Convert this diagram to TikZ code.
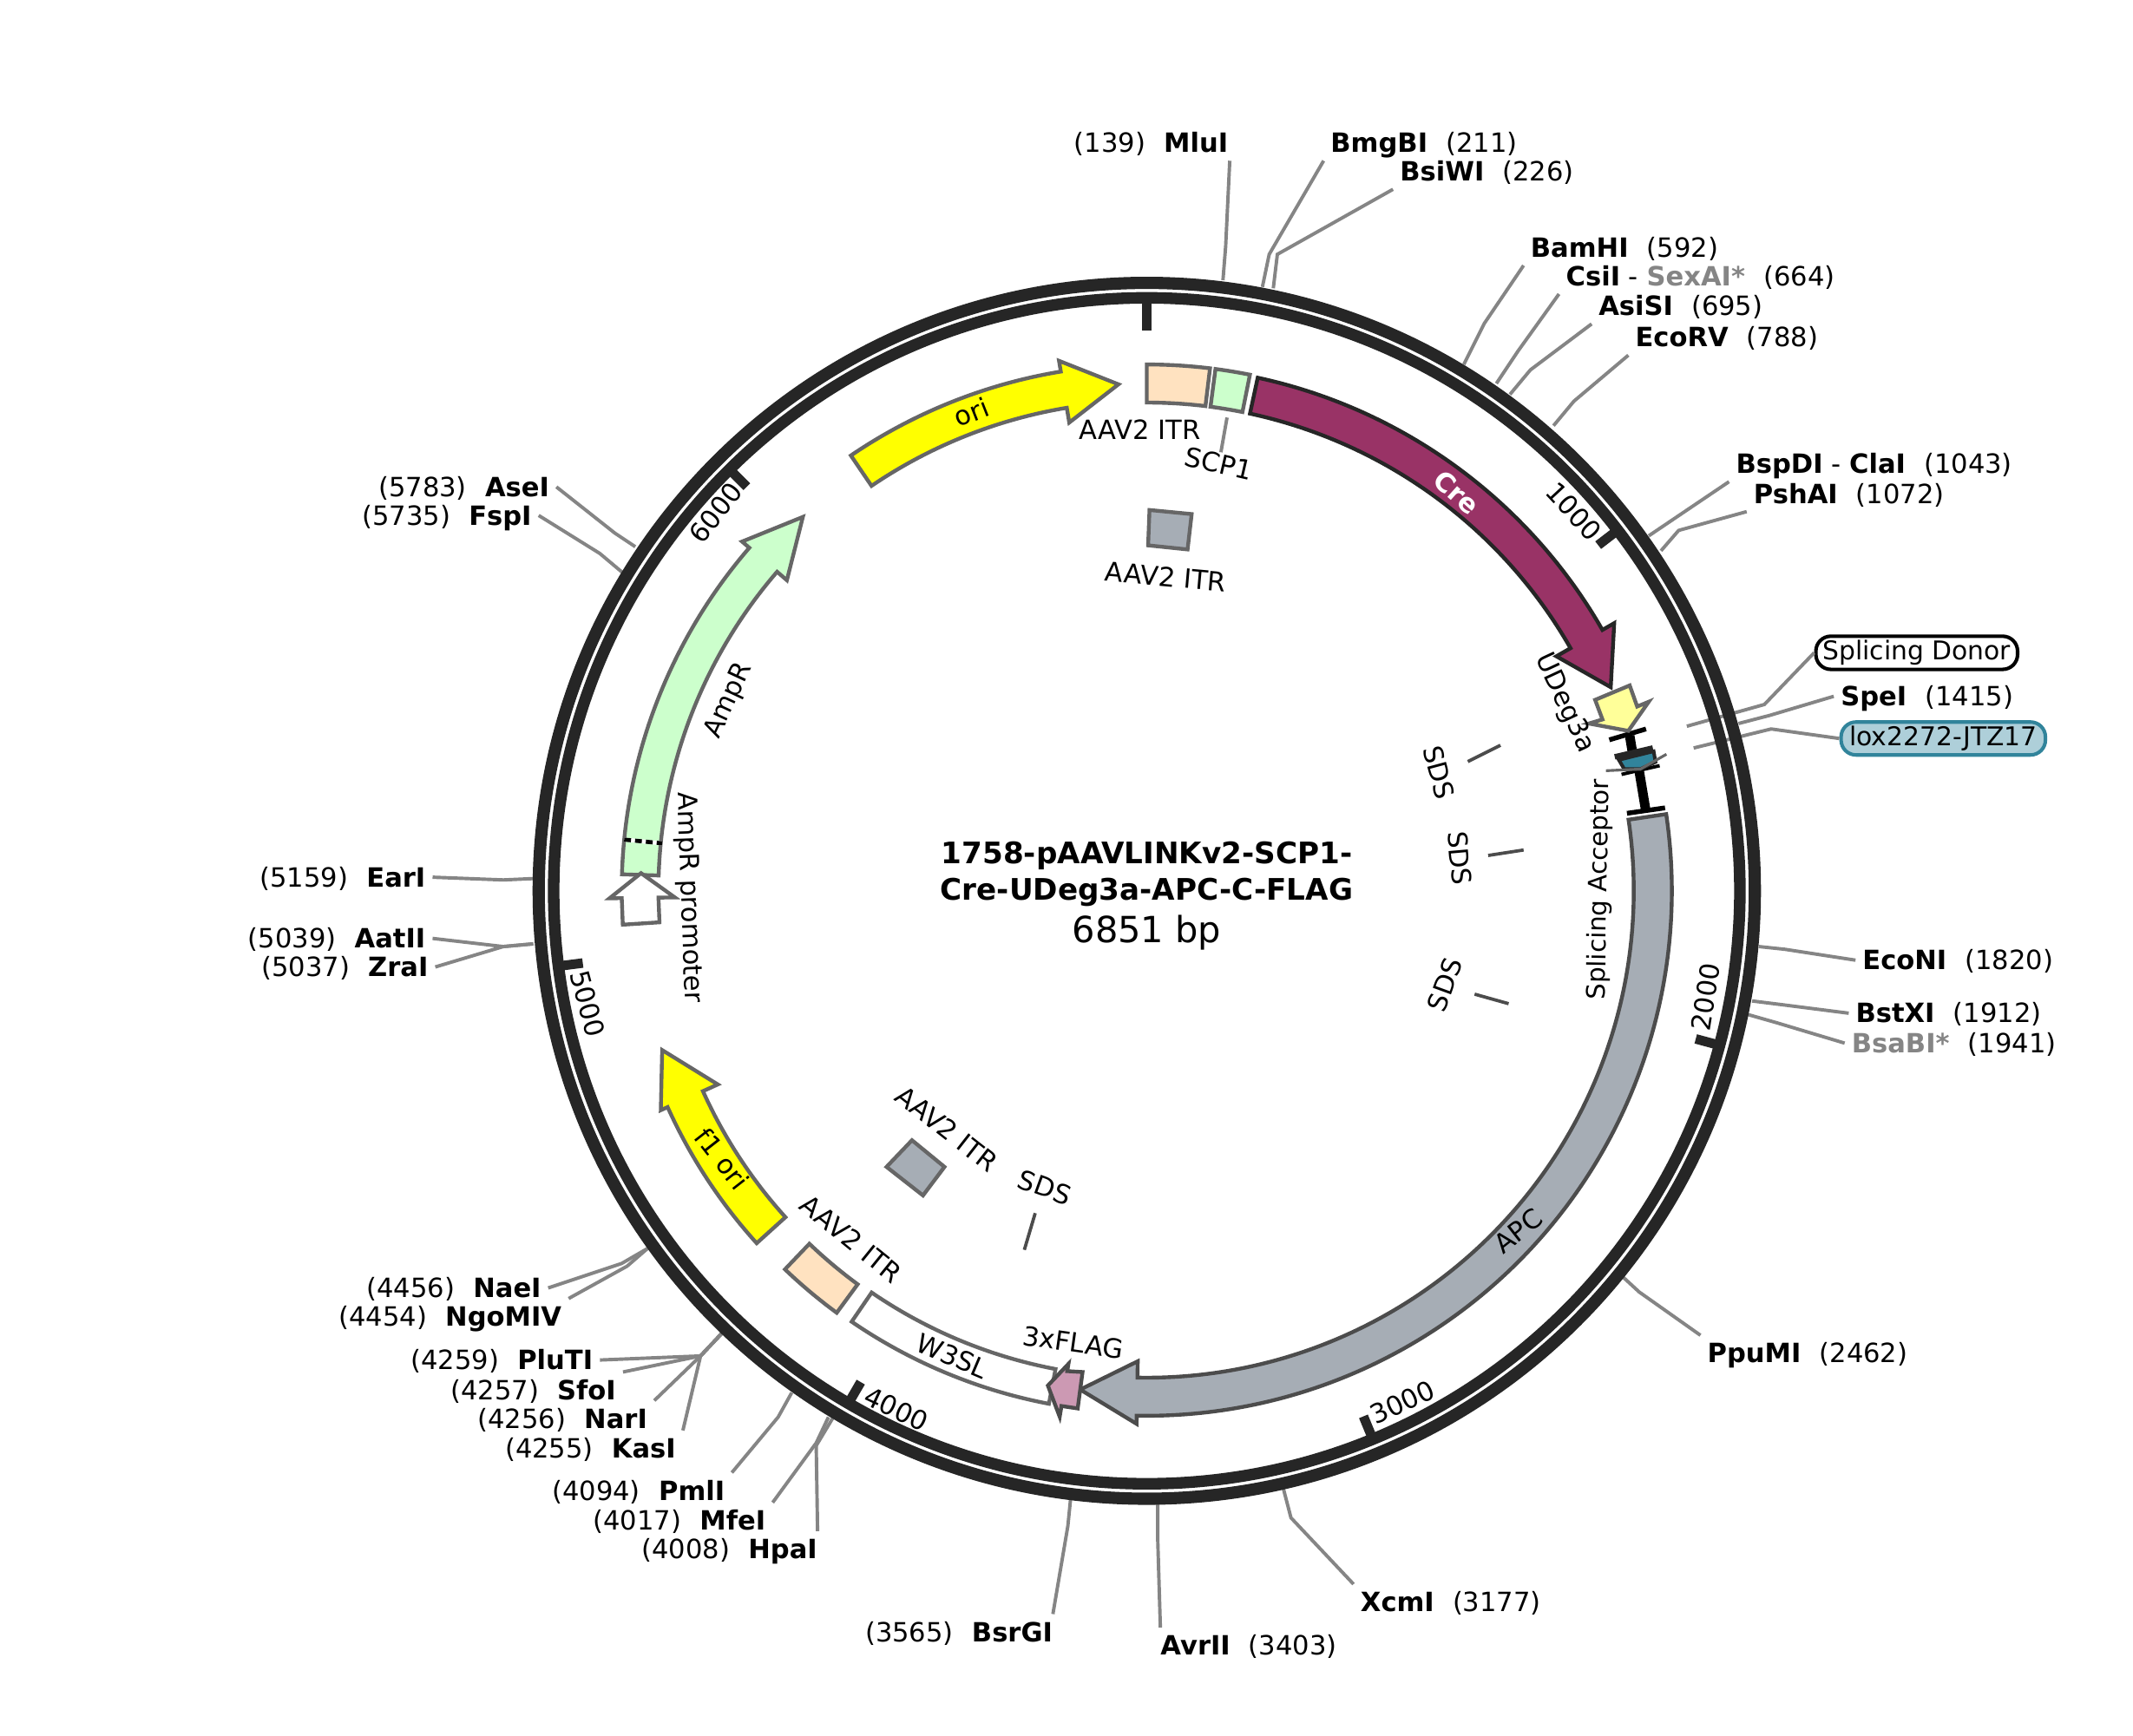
\documentclass[tikz,border=0pt]{standalone}
\usepackage{fontspec}
\setmainfont{DejaVu Sans}
\definecolor{ringcol}{HTML}{262626}
\definecolor{leadcol}{HTML}{858585}
\definecolor{edgecol}{HTML}{666666}
\definecolor{itrcol}{HTML}{FFE2C0}
\definecolor{greencol}{HTML}{CCFFCC}
\definecolor{crecol}{HTML}{993366}
\definecolor{apccol}{HTML}{A6ADB5}
\definecolor{flagcol}{HTML}{CC99B3}
\definecolor{oricol}{HTML}{FFFF00}
\definecolor{udegcol}{HTML}{FFFF99}
\definecolor{loxcol}{HTML}{31849B}
\definecolor{loxfill}{HTML}{AECFD9}
\newcommand{\sitegap}{\hspace{13.5pt}}

\begin{document}
\begin{tikzpicture}[x=1pt,y=-1pt]
	\tikzstyle{site_left} = [anchor=east, inner xsep=5pt, inner ysep=6pt, text height=14pt, text depth=0pt, font=\fontsize{19.5}{23}\selectfont]
	\tikzstyle{site_right} = [anchor=west, inner xsep=5pt, inner ysep=6pt, text height=14pt, text depth=0pt, font=\fontsize{19.5}{23}\selectfont]
	\tikzstyle{site_line} = [draw=leadcol, line width=2.5pt]
	\tikzstyle{feat_text} = [inner sep=1pt, font=\fontsize{19.5}{23}\selectfont]
	\tikzstyle{feat_edge} = [draw=edgecol, line width=2.8pt, line join=miter]
	\tikzstyle{sds_tick} = [draw=black!70, line width=2.4pt]
	\tikzstyle{ruler_tick} = [draw=ringcol, line width=7pt]
	\useasboundingbox (0,0) rectangle (1568,1276);

%------------------------------------------------------------
	\node[site_left] (mlui) at (908,105) {(139)\sitegap\textbf{MluI}};
	\node[site_right] (bmgbi) at (973,105) {\textbf{BmgBI}\sitegap(211)};
	\node[site_right] (bsiwi) at (1024,126) {\textbf{BsiWI}\sitegap(226)};
	\node[site_right] (bamhi) at (1120,182) {\textbf{BamHI}\sitegap(592)};
	\node[site_right] (csii) at (1146,203) {\textbf{CsiI} - \textbf{\textcolor{leadcol}{SexAI*}}\sitegap(664)};
	\node[site_right] (asisi) at (1170,225) {\textbf{AsiSI}\sitegap(695)};
	\node[site_right] (ecorv) at (1197,248) {\textbf{EcoRV}\sitegap(788)};
	\node[site_right] (bspdi) at (1271,341) {\textbf{BspDI} - \textbf{ClaI}\sitegap(1043)};
	\node[site_right] (pshai) at (1284,363) {\textbf{PshAI}\sitegap(1072)};
	\node[site_right] (spei) at (1348,512) {\textbf{SpeI}\sitegap(1415)};
	\node[site_right] (econi) at (1364,706) {\textbf{EcoNI}\sitegap(1820)};
	\node[site_right] (bstxi) at (1359,745) {\textbf{BstXI}\sitegap(1912)};
	\node[site_right] (bsabi) at (1356,767) {\textbf{\textcolor{leadcol}{BsaBI*}}\sitegap(1941)};
	\node[site_right] (ppumi) at (1250,995) {\textbf{PpuMI}\sitegap(2462)};
	\node[site_right] (xcmi) at (995,1178) {\textbf{XcmI}\sitegap(3177)};
	\node[site_right] (avrii) at (848,1210) {\textbf{AvrII}\sitegap(3403)};
	\node[site_left] (bsrgi) at (779,1200) {(3565)\sitegap\textbf{BsrGI}};
	\node[site_left] (hpai) at (606,1139) {(4008)\sitegap\textbf{HpaI}};
	\node[site_left] (mfei) at (568,1118) {(4017)\sitegap\textbf{MfeI}};
	\node[site_left] (pmli) at (538,1096) {(4094)\sitegap\textbf{PmlI}};
	\node[site_left] (kasi) at (502,1065) {(4255)\sitegap\textbf{KasI}};
	\node[site_left] (nari) at (481,1043) {(4256)\sitegap\textbf{NarI}};
	\node[site_left] (sfoi) at (458,1022) {(4257)\sitegap\textbf{SfoI}};
	\node[site_left] (pluti) at (441,1000) {(4259)\sitegap\textbf{PluTI}};
	\node[site_left] (ngomiv) at (418,968) {(4454)\sitegap\textbf{NgoMIV}};
	\node[site_left] (naei) at (403,947) {(4456)\sitegap\textbf{NaeI}};
	\node[site_left] (zrai) at (320,711) {(5037)\sitegap\textbf{ZraI}};
	\node[site_left] (aatii) at (318,690) {(5039)\sitegap\textbf{AatII}};
	\node[site_left] (eari) at (318,645) {(5159)\sitegap\textbf{EarI}};
	\node[site_left] (fspi) at (396,379) {(5735)\sitegap\textbf{FspI}};
	\node[site_left] (asei) at (409,358) {(5783)\sitegap\textbf{AseI}};
	\node[draw=black, line width=2.6pt, rounded corners=11pt, fill=white, inner xsep=5pt, inner ysep=3pt, font=\fontsize{19}{23}\selectfont] (donor) at (1409,480) {Splicing Donor};
	\node[draw=loxcol, line width=2.6pt, rounded corners=11pt, fill=loxfill, inner xsep=6pt, inner ysep=3pt, font=\fontsize{19}{23}\selectfont] (lox) at (1428.5,543) {lox2272-JTZ17};

%------------------------------------------------------------
	\draw[site_line] (899,206) -- (901,181) -- ([xshift=-4pt]mlui.south east);
	\draw[site_line] (928,211) -- (933,187) -- (bmgbi.south west);
	\draw[site_line] (936,212) -- (939,187) -- (bsiwi.south west);
	\draw[site_line] (1076,268) -- (1091,238) -- (bamhi.south west);
	\draw[site_line] (1100,282) -- (1116,258) -- (csii.south west);
	\draw[site_line] (1110,290) -- (1125,272) -- (asisi.south west);
	\draw[site_line] (1142,313) -- (1157,295) -- (ecorv.south west);
	\draw[site_line] (1212,394) -- (bspdi.south west);
	\draw[site_line] (1221,405) -- (1234,390) -- (pshai.south west);
	\draw[site_line] (1240,534) -- (1297,518) -- (donor.west);
	\draw[site_line] (1278,532) -- (1301,526) -- (spei.west);
	\draw[site_line] (1245,550) -- (1302,536) -- (lox.west);
	\draw[site_line] (1293,696) -- (1312,698) -- (econi.west);
	\draw[site_line] (1288,736) -- (1312,739) -- (bstxi.west);
	\draw[site_line] (1285,746) -- (1306,752) -- (bsabi.west);
	\draw[site_line] (1192,938) -- (1205,950) -- (ppumi.north west);
	\draw[site_line] (943,1093) -- (949,1116) -- (xcmi.north west);
	\draw[site_line] (851,1105) -- (851,1130) -- ([xshift=5pt]avrii.north west);
	\draw[site_line] (787,1102) -- (785,1122) -- ([xshift=-5pt]bsrgi.north east);
	\draw[site_line] (612,1043) -- (600,1063) -- ([xshift=-5pt]hpai.north east);
	\draw[site_line] (609,1042) -- (600,1061) -- (mfei.north east);
	\draw[site_line] (582,1024) -- (572,1042) -- (pmli.north east);
	\draw[site_line] (531,980) -- (515,997) -- (kasi.north east);
	\draw[site_line] (531,980) -- (515,997) -- (nari.north east);
	\draw[site_line] (531,980) -- (515,997) -- (sfoi.north east);
	\draw[site_line] (531,980) -- (515,997) -- (pluti.east);
	\draw[site_line] (476,918) -- (461,931) -- (ngomiv.north east);
	\draw[site_line] (476,918) -- (457,929) -- (naei.east);
	\draw[site_line] (392,694) -- (370,696) -- (zrai.east);
	\draw[site_line] (392,694) -- (370,696) -- (aatii.east);
	\draw[site_line] (392,646) -- (370,647) -- (eari.east);
	\draw[site_line] (460,423) -- (441,407) -- (fspi.east);
	\draw[site_line] (467,402) -- (452,392) -- (asei.east);

%------------------------------------------------------------
	\draw[ringcol, line width=9pt] (843,655) circle[radius=447];
	\draw[ringcol, line width=8.5pt] (843,655) circle[radius=436];

	\begin{scope}[shift={(843,655)},rotate=90]
	\draw[ruler_tick] (0:438) -- (0:412);
	\draw[ruler_tick] (52.55:438) -- (52.55:418);
	\draw[ruler_tick] (105.1:438) -- (105.1:418);
	\draw[ruler_tick] (157.6:438) -- (157.6:418);
	\draw[ruler_tick] (210.2:438) -- (210.2:418);
	\draw[ruler_tick] (262.7:438) -- (262.7:418);
	\draw[ruler_tick] (315.3:438) -- (315.3:418);

%------------------------------------------------------------
	\draw[feat_edge, fill=itrcol] (0:387) arc[start angle=0, end angle=6.9, radius=387] -- (6.9:359) arc[start angle=6.9, end angle=0, radius=359] -- cycle;
	\draw[feat_edge, fill=greencol] (7.5:387) arc[start angle=7.5, end angle=11.3, radius=387] -- (11.3:359) arc[start angle=11.3, end angle=7.5, radius=359] -- cycle;
	\draw[draw=ringcol, line width=2.8pt, fill=crecol] (12.2:386) arc[start angle=12.2, end angle=60.2, radius=386] -- (60.2:396) -- (66.3:372.5) -- (60.2:347) -- (60.2:359) arc[start angle=60.2, end angle=12.2, radius=359] -- cycle;
	\draw[feat_edge, fill=oricol] (-34.2:387) arc[start angle=-34.2, end angle=-9.4, radius=387] -- (-9.4:395) -- (-3.2:373) -- (-9.4:349) -- (-9.4:360) arc[start angle=-9.4, end angle=-34.2, radius=360] -- cycle;
	\draw[feat_edge, fill=greencol] (-88.2:386) arc[start angle=-88.2, end angle=-49.2, radius=386] -- (-49.2:393) -- (-42.6:373.5) -- (-49.2:349.5) -- (-49.2:359) arc[start angle=-49.2, end angle=-88.2, radius=359] -- cycle;
	\draw[white, line width=3pt] (-84.4:386) -- (-84.4:358);
	\draw[black, line width=3pt, dash pattern=on 5pt off 3pt] (-84.4:386) -- (-84.4:358);
	\draw[feat_edge, fill=white] (-93.7:386) -- (-90.8:386) -- (-90.8:395) -- (-88:372) -- (-90.8:347) -- (-90.8:359) -- (-93.7:359) -- cycle;
	\draw[feat_edge, fill=oricol] (-132.1:386.5) arc[start angle=-132.1, end angle=-114.3, radius=386.5] -- (-114.3:392) -- (-108.2:375) -- (-114.3:346) -- (-114.3:358) arc[start angle=-114.3, end angle=-132.1, radius=358] -- cycle;
	\draw[feat_edge, fill=itrcol] (-136.3:385) arc[start angle=-136.3, end angle=-143.7, radius=385] -- (-143.7:359) arc[start angle=-143.7, end angle=-136.3, radius=359] -- cycle;
	\draw[feat_edge, fill=white] (-145.6:384) arc[start angle=-145.6, end angle=-169.2, radius=384] -- (-169.2:358) arc[start angle=-169.2, end angle=-145.6, radius=358] -- cycle;
	\draw[draw=black!70, line width=2.8pt, fill=apccol] (81.6:386) arc[start angle=81.6, end angle=181.1, radius=386] -- (181.1:392) -- (187.6:370) -- (181.1:346) -- (181.1:358) arc[start angle=181.1, end angle=81.6, radius=358] -- cycle;
	\draw[draw=black!70, line width=2.8pt, fill=flagcol] (187.6:384) -- (189.4:384) -- (189.4:392) -- (191.3:371) -- (189.4:352.6) -- (189.4:358) -- (187.6:357) -- cycle;
	\end{scope}

%------------------------------------------------------------
	\draw[line width=7pt] (1198,541) -- (1200,553);
	\draw[line width=7pt] (1205,567) -- (1210,597);
	\draw[line width=3.5pt] (1196,598) -- (1224,594);
	\draw[line width=3.5pt] (1183,544) -- (1210,536);
	\draw[draw=edgecol, line width=2.8pt, fill=udegcol] (1172.6,514.6) -- (1198,504) -- (1203.5,519.5) -- (1212,516) -- (1197,537.4) -- (1168,532) -- (1178,529) -- cycle;
	\draw[line width=2.5pt] (1192,569.4) -- (1220,563);
	\draw[draw=ringcol, line width=2.6pt, fill=loxcol] (1190,558.7) -- (1215.6,552.4) -- (1217,560.3) -- (1205.8,565.5) -- (1194,565.5) -- cycle;
	\draw[draw=edgecol, line width=2pt] (1180.5,566.7) -- (1205.8,565.5) -- (1225,554.6);
	\draw[line width=4pt, ringcol] (1187,556.5) -- (1215,550);

	\draw[feat_edge, fill=apccol] (845,375) -- (876,378) -- (873,404) -- (844,401) -- cycle;
	\draw[feat_edge, fill=apccol] (670.4,838.4) -- (694.3,858) -- (678.5,879) -- (651.7,858) -- cycle;

%------------------------------------------------------------
	\node[feat_text] (itra) at (838,316) {AAV2 ITR};
	\node[feat_text, rotate=-13] (scp) at (896,341) {SCP1};
	\node[feat_text, rotate=-5] (itrb) at (857,424) {AAV2 ITR};
	\node[feat_text, rotate=-38] (itrc) at (696,830) {AAV2 ITR};
	\node[feat_text, rotate=-39] (itrd) at (626,911) {AAV2 ITR};
	\node[feat_text, rotate=21.5] (orilabel) at (714,303) {ori};
	\node[feat_text, rotate=-42, text=white] (crelabel) at (1071,362) {\textbf{Cre}};
	\node[feat_text, rotate=-65] (udeg) at (1150,517) {UDeg3a};
	\node[feat_text, rotate=89, font=\fontsize{18.7}{22}\selectfont] (accept) at (1176,654) {Splicing Acceptor};
	\node[feat_text, rotate=-75] (sdsa) at (1058,568) {SDS};
	\node[feat_text, rotate=-85] (sdsb) at (1073,631) {SDS};
	\node[feat_text, rotate=70] (sdsc) at (1062,724) {SDS};
	\node[feat_text, rotate=-20] (sdsd) at (768,873) {SDS};
	\node[feat_text, rotate=-23] (wsl) at (700,997) {W3SL};
	\node[feat_text, rotate=-8] (flag) at (789,987) {3xFLAG};
	\node[feat_text, rotate=38] (apc) at (1116,905) {APC};
	\node[feat_text, rotate=65] (ampr) at (536,515) {AmpR};
	\node[feat_text, rotate=-88] (promoter) at (506,660) {AmpR promoter};
	\node[feat_text, rotate=-52] (fori) at (531,852) {f1 ori};

	\node[feat_text, rotate=-47] (tick_a) at (1157,376) {1000};
	\node[feat_text, rotate=81] (tick_b) at (1254,733) {2000};
	\node[feat_text, rotate=25] (tick_c) at (1031,1031) {3000};
	\node[feat_text, rotate=-25] (tick_d) at (659,1036) {4000};
	\node[feat_text, rotate=-75] (tick_e) at (432,738) {5000};
	\node[feat_text, rotate=52] (tick_f) at (526,377) {6000};

	\draw[site_line] (902,307) -- (scp);
	\draw[sds_tick] (1079,560) -- (1103,548);
	\draw[sds_tick] (1094,629) -- (1120,625);
	\draw[sds_tick] (1084,731) -- (1109,738);
	\draw[sds_tick] (761,892) -- (753,919);

%------------------------------------------------------------
	\node[font=\fontsize{21.8}{26}\selectfont\bfseries] (name_a) at (843,629) {1758-pAAVLINKv2-SCP1-};
	\node[font=\fontsize{21.8}{26}\selectfont\bfseries] (name_b) at (843,656) {Cre-UDeg3a-APC-C-FLAG};
	\node[font=\fontsize{26.5}{31}\selectfont] (size) at (843,686) {6851 bp};
\end{tikzpicture}
\end{document}
